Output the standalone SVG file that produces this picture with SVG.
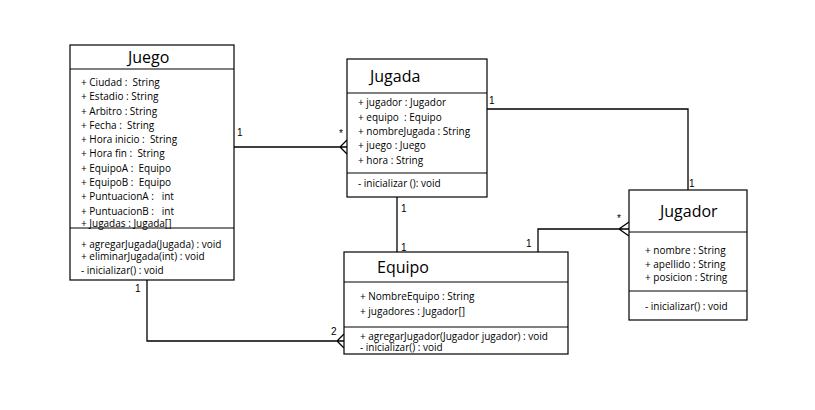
<svg xmlns="http://www.w3.org/2000/svg" width="815" height="410" viewBox="0 0 815 410">
<style>
.box{fill:#fff;stroke:#000;stroke-width:1.2}
.div{stroke:#000;stroke-width:1.2}
.title{font-family:"Open Sans","Noto Sans",sans-serif;font-size:16px;fill:#000}
.t{font-family:"Open Sans","Noto Sans",sans-serif;font-size:10px;fill:#000;white-space:pre}
.conn{fill:none;stroke:#000;stroke-width:1.3}
.lbl{font-family:"Liberation Sans",Arial,sans-serif;font-size:10px;fill:#000}
</style>
<rect width="815" height="410" fill="#fff"/>
<g id="connectors">
  <path class="conn" d="M234,147 H347 M347,140 L340,147 L347,154"/>
  <path class="conn" d="M147,280 V341 H344 M344,334 L337,341 L344,348"/>
  <path class="conn" d="M487,109 H688 V190"/>
  <path class="conn" d="M397,197 V252"/>
  <path class="conn" d="M538,252 V229 H629 M629,222 L619,229 L629,236"/>
  <text class="lbl" x="237" y="136">1</text>
  <text class="lbl" x="339" y="137">*</text>
  <text class="lbl" x="135" y="292">1</text>
  <text class="lbl" x="331" y="335">2</text>
  <text class="lbl" x="489" y="104">1</text>
  <text class="lbl" x="689" y="187">1</text>
  <text class="lbl" x="401" y="212">1</text>
  <text class="lbl" x="401" y="251">1</text>
  <text class="lbl" x="526" y="247">1</text>
  <text class="lbl" x="617" y="222">*</text>
</g>
<g id="Juego">
  <rect class="box" x="70" y="45" width="164" height="235"/>
  <line class="div" x1="70" y1="69" x2="234" y2="69"/>
  <line class="div" x1="70" y1="228" x2="234" y2="228"/>
  <text class="title" x="128" y="63">Juego</text>
  <text class="t" x="81" y="86" xml:space="preserve">+ Ciudad :  String</text>
  <text class="t" x="81" y="100" xml:space="preserve">+ Estadio : String</text>
  <text class="t" x="81" y="114.5" xml:space="preserve">+ Arbitro : String</text>
  <text class="t" x="81" y="128.5" xml:space="preserve">+ Fecha :  String</text>
  <text class="t" x="81" y="143" xml:space="preserve">+ Hora inicio :  String</text>
  <text class="t" x="81" y="157" xml:space="preserve">+ Hora fin :  String</text>
  <text class="t" x="81" y="171.5" xml:space="preserve">+ EquipoA :  Equipo</text>
  <text class="t" x="81" y="185.5" xml:space="preserve">+ EquipoB :  Equipo</text>
  <text class="t" x="81" y="200" xml:space="preserve">+ PuntuacionA :   int</text>
  <text class="t" x="81" y="214.5" xml:space="preserve">+ PuntuacionB :   int</text>
  <text class="t" x="81" y="226.5">+ Jugadas : Jugada[]</text>
  <text class="t" x="81" y="247.5">+ agregarJugada(Jugada) : void</text>
  <text class="t" x="81" y="259.5">+ eliminarJugada(int) : void</text>
  <text class="t" x="81" y="273.5">- inicializar() : void</text>
</g>
<g id="Jugada">
  <rect class="box" x="347" y="59" width="140" height="138"/>
  <line class="div" x1="347" y1="93" x2="487" y2="93"/>
  <line class="div" x1="347" y1="173" x2="487" y2="173"/>
  <text class="title" x="370" y="82">Jugada</text>
  <text class="t" x="358" y="106">+ jugador : Jugador</text>
  <text class="t" x="358" y="120.5" xml:space="preserve">+ equipo  : Equipo</text>
  <text class="t" x="358" y="134.5">+ nombreJugada : String</text>
  <text class="t" x="358" y="149">+ juego : Juego</text>
  <text class="t" x="358" y="163.5">+ hora : String</text>
  <text class="t" x="358" y="186.5">- inicializar (): void</text>
</g>
<g id="Equipo">
  <rect class="box" x="344" y="252" width="224" height="102"/>
  <line class="div" x1="344" y1="282" x2="568" y2="282"/>
  <line class="div" x1="344" y1="327" x2="568" y2="327"/>
  <text class="title" x="377" y="273">Equipo</text>
  <text class="t" x="360" y="300">+ NombreEquipo : String</text>
  <text class="t" x="360" y="314.5">+ jugadores : Jugador[]</text>
  <text class="t" x="360" y="339.5">+ agregarJugador(Jugador jugador) : void</text>
  <text class="t" x="360" y="351">- inicializar() : void</text>
</g>
<g id="Jugador">
  <rect class="box" x="629" y="190" width="118" height="130"/>
  <line class="div" x1="629" y1="232" x2="747" y2="232"/>
  <line class="div" x1="629" y1="291" x2="747" y2="291"/>
  <text class="title" x="660" y="217">Jugador</text>
  <text class="t" x="645" y="253.5">+ nombre : String</text>
  <text class="t" x="645" y="267.5">+ apellido : String</text>
  <text class="t" x="645" y="281">+ posicion : String</text>
  <text class="t" x="645" y="310">- inicializar() : void</text>
</g>
</svg>
